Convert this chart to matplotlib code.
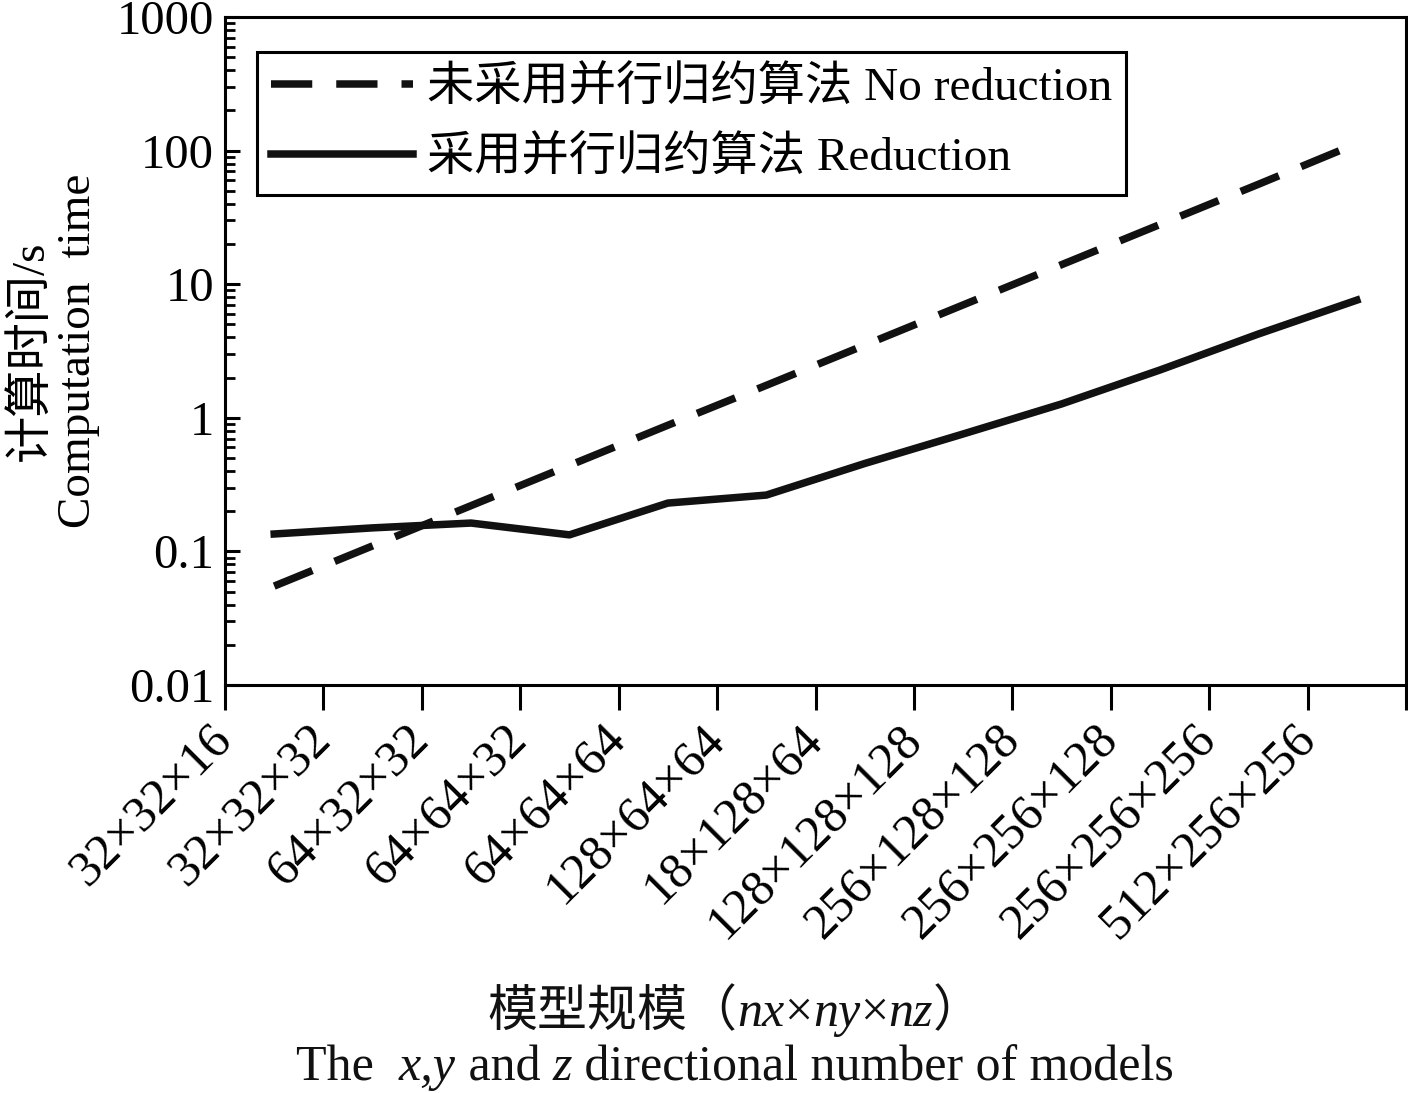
import matplotlib
matplotlib.use("Agg")
import matplotlib.pyplot as plt
import matplotlib.transforms as mtransforms
from matplotlib.offsetbox import TextArea, HPacker, AnnotationBbox

plt.rcParams['font.family'] = ['Liberation Serif', 'Noto Sans CJK SC']
plt.rcParams['axes.unicode_minus'] = False

# Data
sizes = ["32×32×16", "32×32×32", "64×32×32", "64×64×32", "64×64×64",
         "128×64×64", "18×128×64", "128×128×128", "256×128×128",
         "256×256×128", "256×256×256", "512×256×256"]
no_reduction = [0.055, 0.11, 0.22, 0.44, 0.88, 1.75, 3.5, 7.0, 14.0, 28.0, 56.0, 113.0]
reduction = [0.135, 0.150, 0.163, 0.133, 0.230, 0.264, 0.455, 0.757, 1.27, 2.28, 4.24, 7.6]

fig = plt.figure(figsize=(14.08, 10.93), dpi=100)
ax = fig.add_axes([0.1598, 0.3733, 0.8388, 0.6111])

xpos = [i + 0.5 for i in range(len(sizes))]
ax.plot(xpos, no_reduction, color="#111111", lw=5.4, dashes=(5.5, 3.2),
        label="未采用并行归约算法 No reduction")
ax.plot(xpos, reduction, color="#111111", lw=5.4,
        label="采用并行归约算法 Reduction")

ax.set_yscale("log")
ax.set_ylim(0.01, 1000)
ax.set_xlim(0, len(sizes))
ax.set_yticks([0.01, 0.1, 1, 10, 100, 1000])
ax.set_yticklabels(["0.01", "0.1", "1", "10", "100", "1000"])
ax.set_xticks(range(len(sizes) + 1))
ax.set_xticklabels(sizes + [""], rotation=45, ha="right", va="center",
                   rotation_mode="anchor")
shift = mtransforms.ScaledTranslation(6 / 100, 0, fig.dpi_scale_trans)
for lab in ax.get_xticklabels():
    lab.set_transform(lab.get_transform() + shift)

for s in ax.spines.values():
    s.set_linewidth(2.2)
ax.tick_params(axis="y", which="major", direction="in", length=11, width=2.2,
               labelsize=35, pad=8)
ax.tick_params(axis="y", which="minor", direction="in", length=7, width=2.0)
ax.tick_params(axis="x", direction="out", length=18, width=2.2,
               labelsize=36, pad=16)

ax.set_ylabel("计算时间/s\nComputation  time", fontsize=34, linespacing=1.15,
              labelpad=12)

leg = ax.legend(loc="upper left", bbox_to_anchor=(0.027, 0.9476),
                borderaxespad=0, fontsize=34, handlelength=3.0,
                handletextpad=0.3, fancybox=False, edgecolor="black",
                framealpha=1, borderpad=0.3, labelspacing=0.55)
leg.get_frame().set_linewidth(2.2)

# x label lines with italic pieces
def line(parts, y):
    areas = []
    for txt, style in parts:
        areas.append(TextArea(txt, textprops=dict(fontsize=36, style=style,
                                                  color="#111111")))
    box = HPacker(children=areas, align="baseline", pad=0, sep=0)
    ab = AnnotationBbox(box, (0.522, y), xycoords="figure fraction",
                        frameon=False, box_alignment=(0.5, 0.5))
    fig.add_artist(ab)

line([("模型规模（", "normal"), ("nx", "italic"), ("×", "normal"),
      ("ny", "italic"), ("×", "normal"), ("nz", "italic"), ("）", "normal")],
     0.073)
line([("The  ", "normal"), ("x,y", "italic"), (" and ", "normal"),
      ("z", "italic"), (" directional number of models", "normal")], 0.023)

fig.savefig("out.png", dpi=100)
